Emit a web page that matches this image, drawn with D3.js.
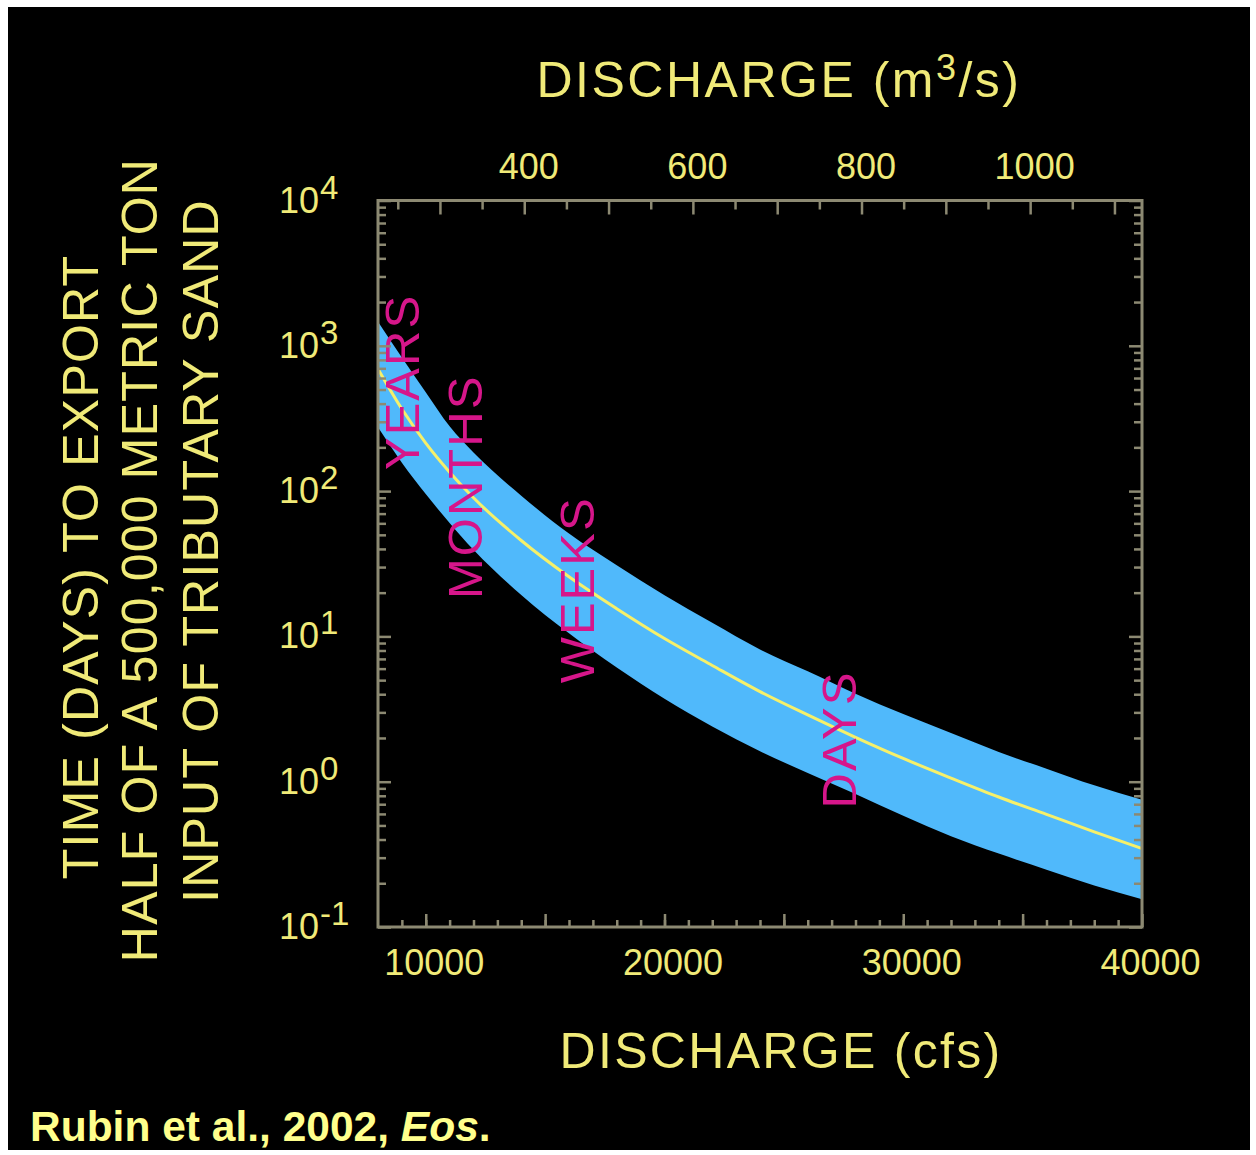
<!DOCTYPE html>
<html>
<head>
<meta charset="utf-8">
<script src="https://cdn.jsdelivr.net/npm/d3@7"></script>
<style>
  html, body { margin: 0; padding: 0; background: #fff; }
  svg { display: block; }
  text { font-family: "Liberation Sans", Arial, Helvetica, sans-serif; }
</style>
</head>
<body>
<svg id="chart" width="1256" height="1155"></svg>
<script>
// discharge (cfs) and time (days) to export half of the sand input
const discharge = [8000, 9000, 10000, 11000, 12000, 14000, 16000, 18000, 20000, 22000, 24000, 26000, 28000, 30000, 32000, 34000, 36000, 38000, 40000];
const timeMid  = [692, 367, 214, 135, 90, 45.7, 25.7, 15.5, 9.66, 6.31, 4.17, 2.88, 2.02, 1.445, 1.06, 0.785, 0.596, 0.452, 0.347];
const timeHigh = [1466, 832, 479, 279, 184, 93, 51, 30.9, 19.2, 12.4, 8.13, 5.75, 4.03, 2.92, 2.16, 1.60, 1.23, 0.944, 0.75];
const timeLow  = [275, 157, 95.5, 60.3, 39.4, 19.3, 10.5, 6.1, 3.72, 2.40, 1.62, 1.148, 0.822, 0.582, 0.422, 0.32, 0.248, 0.193, 0.155];

const cfsLabels = [10000, 20000, 30000, 40000];
const m3sLabels = [400, 600, 800, 1000];
const decades = [0.1, 1, 10, 100, 1000, 10000];
const exponents = ["-1", "0", "1", "2", "3", "4"];

// zone labels, placed in data coords (cfs, days)
const zoneNames = ["YEARS", "MONTHS", "WEEKS", "DAYS"];
const zoneCfs = [8963, 11602, 16300, 27300];
const zoneDays = [564, 107, 20.9, 1.95];

const CFS_PER_M3 = 35.3147;

const yellow = "#f0ea78";
const frameColor = "#8c8972";
const pink = "#d6168a";

const svg = d3.select("#chart");

svg.append("rect")
    .attr("x", 8).attr("y", 7)
    .attr("width", 1242).attr("height", 1143)
    .attr("fill", "#000");

const plot = {left: 378, right: 1142, top: 200.5, bottom: 927};

const x = d3.scaleLinear().domain([8000, 40000]).range([plot.left, plot.right]);
const xm = d3.scaleLinear().domain([8000 / CFS_PER_M3, 40000 / CFS_PER_M3]).range([plot.left, plot.right]);
const y = d3.scaleLog().domain([0.1, 10000]).range([plot.bottom, plot.top]);

const rows = discharge.map((q, i) => ({q: q, mid: timeMid[i], hi: timeHigh[i], lo: timeLow[i]}));

svg.append("clipPath").attr("id", "clip")
  .append("rect")
    .attr("x", plot.left).attr("y", plot.top)
    .attr("width", plot.right - plot.left).attr("height", plot.bottom - plot.top);

const g = svg.append("g").attr("clip-path", "url(#clip)");

// uncertainty band
g.append("path")
    .datum(rows)
    .attr("fill", "#50b9fb")
    .attr("d", d3.area()
        .x(d => x(d.q))
        .y0(d => y(d.lo))
        .y1(d => y(d.hi))
        .curve(d3.curveMonotoneX));

// best-estimate line
g.append("path")
    .datum(rows)
    .attr("fill", "none")
    .attr("stroke", "#f6f06a")
    .attr("stroke-width", 3)
    .attr("d", d3.line()
        .x(d => x(d.q))
        .y(d => y(d.mid))
        .curve(d3.curveMonotoneX));

// zone labels
svg.selectAll(".zone")
  .data(zoneNames)
  .enter().append("text")
    .attr("class", "zone")
    .attr("transform", (d, i) => `translate(${x(zoneCfs[i])},${y(zoneDays[i])}) rotate(-90)`)
    .attr("text-anchor", "middle")
    .attr("dy", "0.36em")
    .attr("font-size", 49)
    .attr("letter-spacing", 2)
    .attr("fill", pink)
    .text(d => d);

// axes (ticks only, frame drawn separately)
function styleAxis(sel) {
    sel.select(".domain").remove();
    sel.selectAll(".tick line").attr("stroke", frameColor).attr("stroke-width", 2.5);
    sel.selectAll(".tick text")
        .attr("fill", yellow)
        .attr("font-size", 36)
        .attr("font-family", "Liberation Sans, Arial, sans-serif");
}

const minorLog = [];
decades.slice(0, -1).forEach(d => {
    for (let k = 2; k <= 9; k++) minorLog.push(d * k);
});

// bottom, cfs
svg.append("g").attr("transform", `translate(0,${plot.bottom})`)
    .call(d3.axisBottom(x).tickValues(d3.range(9000, 40000, 1000)).tickSize(-7).tickFormat(""))
    .call(styleAxis);
svg.append("g").attr("transform", `translate(0,${plot.bottom})`)
    .call(d3.axisBottom(x).tickValues(d3.range(10000, 40001, 5000)).tickSize(-13)
        .tickPadding(22).tickFormat(d => cfsLabels.includes(d) ? d : ""))
    .call(styleAxis)
    .call(a => a.selectAll(".tick text").attr("dx", 8));

// top, m3/s
svg.append("g").attr("transform", `translate(0,${plot.top})`)
    .call(d3.axisTop(xm).tickValues(d3.range(250, 1101, 100)).tickSize(-9).tickFormat(""))
    .call(styleAxis);
svg.append("g").attr("transform", `translate(0,${plot.top})`)
    .call(d3.axisTop(xm).tickValues(d3.range(300, 1101, 100)).tickSize(-14)
        .tickPadding(22).tickFormat(d => m3sLabels.includes(d) ? d : ""))
    .call(styleAxis)
    .call(a => a.selectAll(".tick text").attr("dx", 4));

// left and right, log days
[[d3.axisLeft, plot.left], [d3.axisRight, plot.right]].forEach(([axisFn, px]) => {
    svg.append("g").attr("transform", `translate(${px},0)`)
        .call(axisFn(y).tickValues(minorLog).tickSize(-8).tickFormat(""))
        .call(styleAxis);
    svg.append("g").attr("transform", `translate(${px},0)`)
        .call(axisFn(y).tickValues(decades).tickSize(-13).tickFormat(""))
        .call(styleAxis);
});

// decade labels with superscript exponents
const yl = svg.selectAll(".ylab")
  .data(decades)
  .enter().append("text")
    .attr("class", "ylab")
    .attr("x", 279)
    .attr("y", d => y(d) + 12)
    .attr("fill", yellow)
    .attr("font-size", 36);
yl.append("tspan").text("10");
yl.append("tspan")
    .attr("dx", 1)
    .attr("dy", -14)
    .attr("font-size", 33)
    .text((d, i) => exponents[i]);

// frame
svg.append("rect")
    .attr("x", plot.left).attr("y", plot.top)
    .attr("width", plot.right - plot.left).attr("height", plot.bottom - plot.top)
    .attr("fill", "none")
    .attr("stroke", frameColor)
    .attr("stroke-width", 3);

// axis titles
const topTitle = svg.append("text")
    .attr("x", 779).attr("y", 97)
    .attr("text-anchor", "middle")
    .attr("fill", yellow)
    .attr("font-size", 50)
    .attr("letter-spacing", 2.5);
topTitle.append("tspan").text("DISCHARGE (m");
topTitle.append("tspan").attr("dy", -17).attr("font-size", 36).text("3");
topTitle.append("tspan").attr("dy", 17).text("/s)");

svg.append("text")
    .attr("x", 781).attr("y", 1068)
    .attr("text-anchor", "middle")
    .attr("fill", yellow)
    .attr("font-size", 50)
    .attr("letter-spacing", 2.3)
    .text("DISCHARGE (cfs)");

const yTitle = ["TIME (DAYS) TO EXPORT", "HALF OF A 500,000 METRIC TON", "INPUT OF TRIBUTARY SAND"];
const yTitleX = [98, 157, 218];
const yTitleY = [567, 560, 551];
svg.selectAll(".ytitle")
  .data(yTitle)
  .enter().append("text")
    .attr("class", "ytitle")
    .attr("transform", (d, i) => `translate(${yTitleX[i]},${yTitleY[i]}) rotate(-90)`)
    .attr("text-anchor", "middle")
    .attr("fill", yellow)
    .attr("font-size", 50)
    .attr("letter-spacing", 1.2)
    .text(d => d);

// citation
const cite = svg.append("text")
    .attr("x", 30).attr("y", 1141)
    .attr("fill", "#ffff8c")
    .attr("font-size", 42.5)
    .attr("font-weight", "bold");
cite.append("tspan").text("Rubin et al., 2002, ");
cite.append("tspan").attr("font-style", "italic").text("Eos");
cite.append("tspan").text(".");
</script>
</body>
</html>
